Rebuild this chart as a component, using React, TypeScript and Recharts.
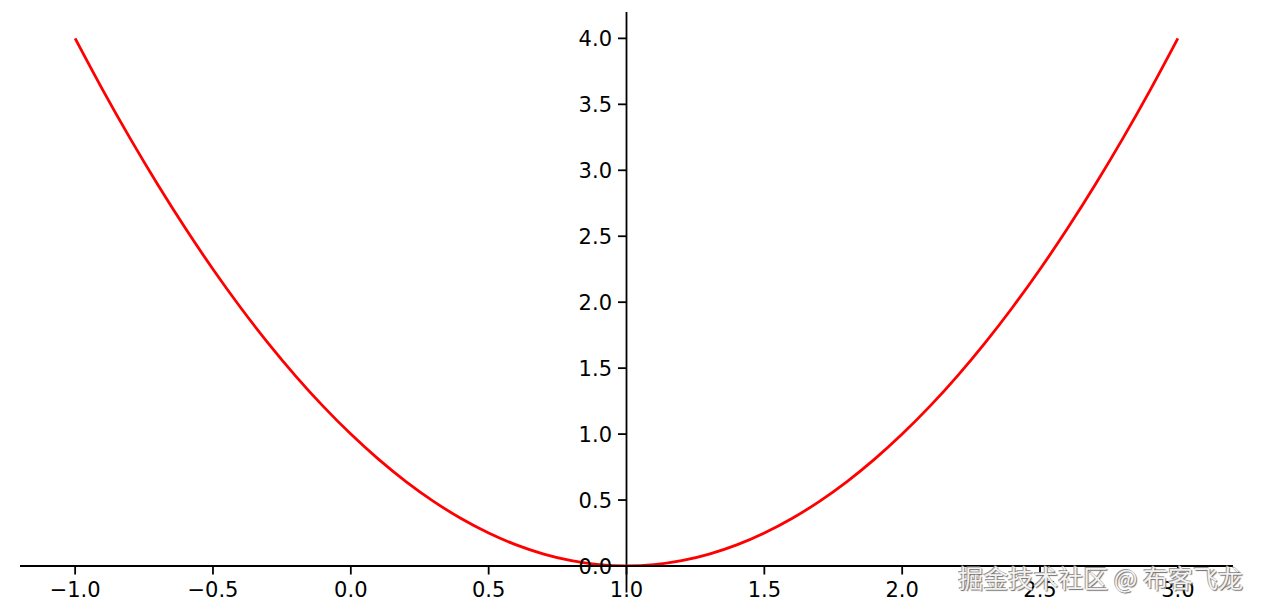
import { LineChart, Line, XAxis, YAxis, ReferenceLine } from 'recharts';

// y = (x - 1)^2, every 0.1
const xValues = [
  -1.0, -0.9, -0.8, -0.7, -0.6, -0.5, -0.4, -0.3, -0.2, -0.1,
  0.0, 0.1, 0.2, 0.3, 0.4, 0.5, 0.6, 0.7, 0.8, 0.9,
  1.0, 1.1, 1.2, 1.3, 1.4, 1.5, 1.6, 1.7, 1.8, 1.9,
  2.0, 2.1, 2.2, 2.3, 2.4, 2.5, 2.6, 2.7, 2.8, 2.9, 3.0,
];
const yValues = [
  4.0, 3.61, 3.24, 2.89, 2.56, 2.25, 1.96, 1.69, 1.44, 1.21,
  1.0, 0.81, 0.64, 0.49, 0.36, 0.25, 0.16, 0.09, 0.04, 0.01,
  0.0, 0.01, 0.04, 0.09, 0.16, 0.25, 0.36, 0.49, 0.64, 0.81,
  1.0, 1.21, 1.44, 1.69, 1.96, 2.25, 2.56, 2.89, 3.24, 3.61, 4.0,
];
const xTicks = [-1.0, -0.5, 0.0, 0.5, 1.0, 1.5, 2.0, 2.5, 3.0];
const yTicks = [0.0, 0.5, 1.0, 1.5, 2.0, 2.5, 3.0, 3.5, 4.0];
const watermark = '掘金技术社区 @ 布客飞龙';

const data = xValues.map((x, i) => ({ x, y: yValues[i] }));

const W = 1262;
const H = 612;
const MARGIN = { top: 12, right: 29, left: 19, bottom: 0 };
const Y_AXIS_W = 1;
const X_DOMAIN: [number, number] = [-1.2, 3.2];
const Y_DOMAIN: [number, number] = [0, 4.2];
const SPINE_AT = 1; // y axis crosses at x = 1
const PLOT_LEFT = MARGIN.left + Y_AXIS_W;
const PLOT_W = W - PLOT_LEFT - MARGIN.right;
const SPINE_X = PLOT_LEFT + (PLOT_W * (SPINE_AT - X_DOMAIN[0])) / (X_DOMAIN[1] - X_DOMAIN[0]);

const FONT = '"DejaVu Sans", sans-serif';
const FONT_SIZE = 21;
const TICK = 8.5;
const SPINE_W = 1.8;

const fmt = (v: number) => v.toFixed(1).replace('-', '\u2212');

const renderYTick = (props: any) => {
  const { y, payload } = props;
  return (
    <g key={`yt-${payload.value}`}>
      <line x1={SPINE_X - TICK} x2={SPINE_X} y1={y} y2={y} stroke="#000" strokeWidth={SPINE_W} />
      <text
        x={SPINE_X - TICK - 6}
        y={y}
        dy="0.36em"
        textAnchor="end"
        fill="#000"
        fontFamily={FONT}
        fontSize={FONT_SIZE}
      >
        {fmt(payload.value)}
      </text>
    </g>
  );
};

export default function App() {
  return (
    <div style={{ margin: -8, width: W, height: H, background: '#fff', position: 'relative' }}>
      <LineChart width={W} height={H} data={data} margin={MARGIN}>
        <XAxis
          dataKey="x"
          type="number"
          domain={X_DOMAIN}
          ticks={xTicks}
          interval={0}
          allowDataOverflow
          height={46}
          tickSize={TICK}
          tickMargin={8}
          tickFormatter={fmt}
          axisLine={{ stroke: '#000', strokeWidth: SPINE_W }}
          tickLine={{ stroke: '#000', strokeWidth: SPINE_W }}
          tick={{ fill: '#000', fontFamily: FONT, fontSize: FONT_SIZE }}
        />
        <YAxis
          type="number"
          domain={Y_DOMAIN}
          ticks={yTicks}
          interval={0}
          allowDataOverflow
          width={Y_AXIS_W}
          axisLine={false}
          tickLine={false}
          tick={renderYTick}
        />
        <ReferenceLine
          segment={[
            { x: SPINE_AT, y: -0.2 },
            { x: SPINE_AT, y: 4.2 },
          ]}
          ifOverflow="visible"
          stroke="#000"
          strokeWidth={SPINE_W}
        />
        <Line
          type="monotone"
          dataKey="y"
          stroke="#ff0000"
          strokeWidth={2.8}
          dot={false}
          activeDot={false}
          isAnimationActive={false}
        />
      </LineChart>
      <div
        style={{
          position: 'absolute',
          right: 19,
          top: 562,
          fontFamily: '"Noto Sans CJK SC", sans-serif',
          fontSize: 25,
          color: '#f2f2f2',
          textShadow: '1px 1px 1px #6f6f6f, -1px -1px 0 #9a9a9a',
          whiteSpace: 'nowrap',
          lineHeight: '30px',
        }}
      >
        {watermark}
      </div>
    </div>
  );
}
